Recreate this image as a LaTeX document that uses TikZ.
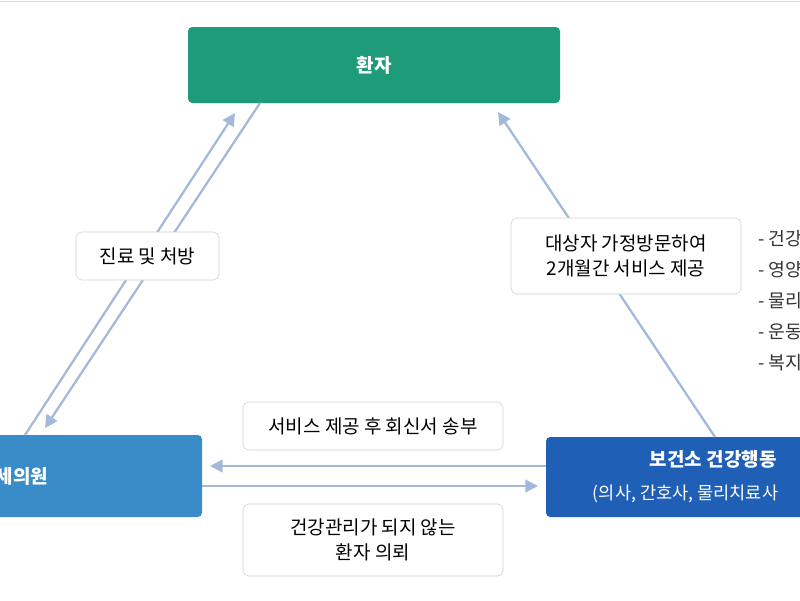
\documentclass[tikz,border=0pt]{standalone}
\usepackage{fontspec}
\setmainfont{Noto Sans CJK KR}
\usetikzlibrary{arrows.meta,positioning}
\definecolor{topgreen}{HTML}{1E9B78}
\definecolor{leftblue}{HTML}{3A8CC8}
\definecolor{rightblue}{HTML}{1F5FB5}
\definecolor{arrowblue}{HTML}{A3B9DA}
\tikzset{
  box/.style={rounded corners=3pt,inner sep=0pt,text=white,font=\fontsize{13.5}{15}\selectfont\bfseries},
  tag/.style={draw=black!18,fill=white,rounded corners=4pt,inner sep=0pt,align=center,font=\fontsize{13.5}{18}\selectfont},
  link/.style={draw=arrowblue,line width=1.6pt,-{Triangle[length=9pt,width=9pt]}}
}
\begin{document}
\begin{tikzpicture}[x=0.025cm,y=-0.025cm]
   \useasboundingbox (0,0) rectangle (800,600);
   \clip (0,0) rectangle (800,600);
   \draw[black!15] (0,1) -- (800,1);
   % main boxes
   \node (patient) [box,fill=topgreen,minimum width=372*0.025cm,minimum height=76*0.025cm] at (374,65) {환자};
   \node (clinic) [box,fill=leftblue,minimum width=260*0.025cm,minimum height=82*0.025cm] at (72,476) {};
   \node[anchor=west,text=white,font=\fontsize{13.5}{15}\selectfont\bfseries] at (-9,476) {세의원};
   \node (center) [box,fill=rightblue,minimum width=300*0.025cm,minimum height=80*0.025cm] at (696,477) {};
   \node[anchor=west,text=white,font=\fontsize{13.5}{15}\selectfont\bfseries] at (645,459) {보건소 건강행동};
   \node[anchor=west,text=white,font=\fontsize{12.5}{14}\selectfont] at (588,494) {(의사, 간호사, 물리치료사};
   % connectors
   \coordinate (a1) at (25,435);   \coordinate (a2) at (235,113);
   \coordinate (b1) at (260,103);  \coordinate (b2) at (45,428);
   \coordinate (c1) at (715,437);  \coordinate (c2) at (498,112);
   \draw[link] (a1) -- (a2);
   \draw[link] (b1) -- (b2);
   \draw[link] (c1) -- (c2);
   \draw[link] (center.west |- 0,466) -- (210,466);
   \draw[link] (clinic.east |- 0,486) -- (538,486);
   % labels
   \node (treat) [tag,minimum width=143*0.025cm,minimum height=48*0.025cm] at (147.5,256) {진료 및 처방};
   \node (visit) [tag,minimum width=230*0.025cm,minimum height=76*0.025cm] at (626,256) {대상자 가정방문하여\\2개월간 서비스 제공};
   \node (reply) [tag,minimum width=260*0.025cm,minimum height=48*0.025cm] at (373,426) {서비스 제공 후 회신서 송부};
   \node (refer) [tag,minimum width=260*0.025cm,minimum height=72*0.025cm] at (373,540) {건강관리가 되지 않는\\환자 의뢰};
   % service list
   \node (list) [anchor=north west,align=left,inner sep=0pt,font=\fontsize{13}{22}\selectfont,text=black!80] at (758,230) {- 건강\\- 영양\\- 물리\\- 운동\\- 복지};
\end{tikzpicture}
\end{document}
